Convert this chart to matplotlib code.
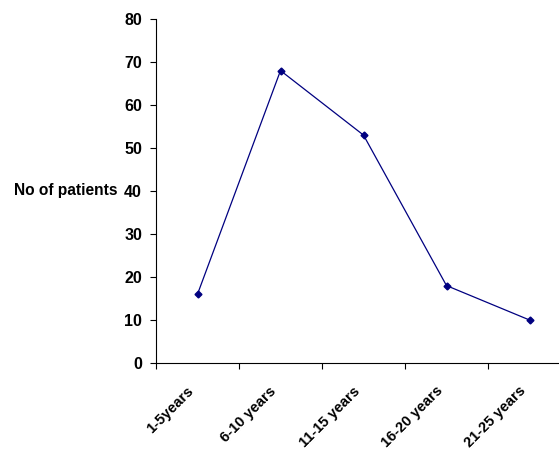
import matplotlib.pyplot as plt
import matplotlib.transforms as mtransforms
import numpy as np

categories = ['1-5years', '6-10 years', '11-15 years', '16-20 years', '21-25 years']
patients = [16, 68, 53, 18, 10]


def main():
	plt.rcParams['font.family'] = ['Liberation Sans', 'DejaVu Sans']
	plt.rcParams['font.weight'] = 'bold'

	fig = plt.figure(figsize=(5.59, 4.55), dpi=100)
	ax = fig.add_axes([156/559, 92/455, 415/559, 344/455])

	x = np.arange(len(categories))
	ax.plot(x, patients, color='#000080', linewidth=0.9, marker='D', markersize=3.5)

	ax.set_xlim(-0.5, len(categories) - 0.5)
	ax.set_ylim(0, 80)
	ax.set_yticks(range(0, 81, 10))

	#tick marks between categories, labels at the centres
	ax.set_xticks(np.arange(-0.5, len(categories), 1.0))
	ax.set_xticklabels([])
	ax.set_xticks(x, minor=True)
	ax.set_xticklabels(categories, minor=True, rotation=45, ha='right', rotation_mode='anchor', fontsize=10.5, fontweight='bold')
	ax.tick_params(axis='x', which='minor', length=0, pad=15)
	ax.tick_params(axis='both', which='major', direction='out', length=4, width=0.8)
	ax.tick_params(axis='y', labelsize=11.5, pad=6)

	shift = mtransforms.ScaledTranslation(-11/100, 0, fig.dpi_scale_trans)
	for lab in ax.get_xticklabels(minor=True):
		lab.set_transform(lab.get_transform() + shift)

	for lab in ax.get_yticklabels():
		lab.set_fontweight('bold')

	ax.spines['top'].set_visible(False)
	ax.spines['right'].set_visible(False)
	for s in ['left', 'bottom']:
		ax.spines[s].set_linewidth(0.8)

	ax.set_ylabel('No of patients', rotation=0, fontsize=11.2, fontweight='bold', ha='right', va='center')
	ax.yaxis.set_label_coords(-0.093, 0.5)

	fig.savefig('out.png', dpi=100)


if __name__ == '__main__':
	main()
